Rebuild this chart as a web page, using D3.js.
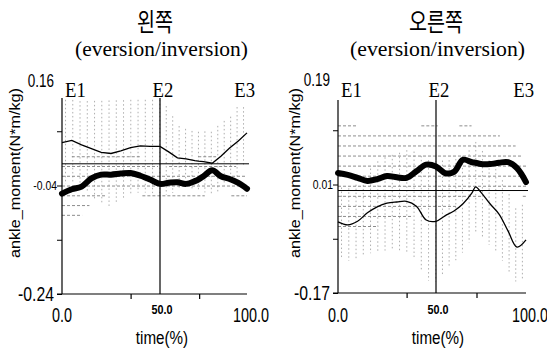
<!DOCTYPE html>
<html><head><meta charset="utf-8">
<script src="https://cdn.jsdelivr.net/npm/d3@7"></script>
<style>body{margin:0;background:#fff}svg{display:block;background:#fff}</style>
</head><body><svg id="c" width="547" height="349"></svg>
<script>
// ---------- data ----------
const time = [0,5,10,15,20,25,30,35,40,45,50,55,60,65,70,72,75,80,85,90,95,100];

const leftThick   = [-0.055,-0.047,-0.042,-0.027,-0.020,-0.020,-0.018,-0.017,-0.022,-0.029,-0.037,-0.035,-0.034,-0.037,-0.032,-0.029,-0.023,-0.012,-0.023,-0.028,-0.035,-0.046];
const leftThickSD = [0.060,0.060,0.055,0.045,0.040,0.038,0.036,0.036,0.036,0.035,0.030,0.030,0.035,0.040,0.042,0.042,0.040,0.030,0.030,0.030,0.028,0.025];
const leftThin    = [0.039,0.043,0.035,0.028,0.021,0.019,0.024,0.030,0.033,0.032,0.032,0.022,0.011,0.009,0.006,0.005,0.004,0.001,0.014,0.029,0.042,0.057];
const leftThinSD  = [0.079,0.075,0.080,0.088,0.095,0.098,0.093,0.088,0.085,0.086,0.086,0.080,0.060,0.055,0.053,0.054,0.056,0.058,0.062,0.055,0.066,0.045];

const rightThick   = [0.029,0.026,0.021,0.016,0.019,0.024,0.022,0.021,0.032,0.043,0.040,0.029,0.031,0.051,0.047,0.046,0.044,0.044,0.046,0.047,0.037,0.014];
const rightThickSD = [0.090,0.090,0.085,0.080,0.080,0.075,0.075,0.070,0.070,0.070,0.070,0.070,0.065,0.065,0.060,0.060,0.055,0.050,0.045,0.040,0.035,0.030];
const rightThin    = [-0.052,-0.057,-0.051,-0.037,-0.027,-0.021,-0.019,-0.018,-0.026,-0.049,-0.051,-0.042,-0.034,-0.022,-0.004,0.006,-0.003,-0.022,-0.039,-0.067,-0.094,-0.082];
const rightThinSD  = [0.058,0.060,0.062,0.068,0.075,0.078,0.080,0.085,0.090,0.100,0.100,0.092,0.085,0.080,0.075,0.075,0.072,0.070,0.068,0.065,0.060,0.065];

const titles    = ["왼쪽", "오른쪽"];
const subtitle  = "(eversion/inversion)";
const eventLabels = ["E1","E2","E3"];
const eventTimes  = [0,50,100];
const xTickValues = [0,50,100];
const xTickLabels = ["0.0","50.0","100.0"];
const xMinorTicks = [35,72.5];
const leftYDomain  = [-0.24,0.16];
const leftYTicks   = [0.16,-0.04,-0.24];
const leftYLabels  = ["0.16","-0.04","-0.24"];
const leftYMinor   = [0.06,-0.14];
const rightYDomain = [-0.17,0.19];
const rightYTicks  = [0.19,0.01,-0.17];
const rightYLabels = ["0.19","0.01","-0.17"];
const rightYMinor  = [0.10,-0.08];
const yTitle = "ankle_moment(N*m/kg)";
const xTitle = "time(%)";

// ---------- layout ----------
const svg = d3.select("#c");
const NUM = "'Liberation Sans',Arial,sans-serif";
const SERIF = "'Liberation Serif','DejaVu Serif',serif";

function narrowText(g, x, y, str, size, anchor, sx, opts={}){
  const t = g.append("text").attr("transform",`translate(${x},${y}) scale(${sx},1)`)
    .attr("text-anchor",anchor).attr("font-family",opts.family||NUM).attr("font-size",size)
    .attr("fill","#000").text(str);
  if(opts.weight) t.attr("font-weight",opts.weight);
  if(opts.baseline) t.attr("dominant-baseline",opts.baseline);
  return t;
}

const panels = [
  {title:titles[0], xr:[62,160,247], yr:[294,77], top:98, yDomain:leftYDomain, yTicks:leftYTicks, yLabels:leftYLabels, yMinor:leftYMinor,
   thick:leftThick, thickSD:leftThickSD, thin:leftThin, thinSD:leftThinSD, levelStart:0.013, levelStep:0.018, thinCurve:d3.curveLinear,
   titleX:155, subX:161.5, titleLen:36, subLen:173, yTitleX:16},
  {title:titles[1], xr:[338,436,526], yr:[293,76], top:100, yDomain:rightYDomain, yTicks:rightYTicks, yLabels:rightYLabels, yMinor:rightYMinor,
   thick:rightThick, thickSD:rightThickSD, thin:rightThin, thinSD:rightThinSD, levelStart:0.124, levelStep:0.0167, thinCurve:d3.curveCatmullRom.alpha(0.5),
   titleX:436, subX:437.5, titleLen:54, subLen:175, yTitleX:296}
];

function interp(arr, t){
  for(let i=0;i<time.length-1;i++){
    if(t>=time[i] && t<=time[i+1]){
      const f=(t-time[i])/(time[i+1]-time[i]);
      return arr[i]+(arr[i+1]-arr[i])*f;
    }
  }
  return arr[arr.length-1];
}

panels.forEach((p,pi)=>{
  const x = d3.scaleLinear().domain([0,50,100]).range(p.xr);
  const y = d3.scaleLinear().domain(p.yDomain).range(p.yr);
  const g = svg.append("g");
  const bottom = p.yr[0];

  const cid = "clip"+pi;
  svg.append("clipPath").attr("id",cid).append("rect")
    .attr("x",x(0)).attr("y",p.top).attr("width",x(100)-x(0)+1).attr("height",bottom-p.top);
  const hg = g.append("g").attr("clip-path",`url(#${cid})`);

  // vertical hatching: thin series SD
  d3.range(1.8,100,3.7).forEach(t=>{
    const c = interp(p.thin,t), s = interp(p.thinSD,t);
    hg.append("line").attr("x1",x(t)).attr("x2",x(t))
      .attr("y1",y(c+s)).attr("y2",y(c-s))
      .attr("stroke","#9a9a9a").attr("stroke-width",0.8).attr("stroke-dasharray","1.5,2.5");
  });
  // horizontal hatching: thick series SD
  for(let k=-12;k<=12;k++){
    const L = p.levelStart - k*p.levelStep;
    let start=null;
    const tsArr = d3.range(0,100.001,0.25);
    tsArr.forEach((t,i)=>{
      const c=interp(p.thick,t), s=interp(p.thickSD,t);
      const inside = Math.abs(L-c)<=s;
      if(inside && start===null) start=t;
      if((!inside || i===tsArr.length-1) && start!==null){
        const end = inside? t : tsArr[i-1];
        if(end-start>1){
          hg.append("line").attr("x1",x(start)).attr("x2",x(end))
            .attr("y1",y(L)).attr("y2",y(L))
            .attr("stroke","#808080").attr("stroke-width",0.9).attr("stroke-dasharray","3,2");
        }
        start=null;
      }
    });
  }

  // zero line
  g.append("line").attr("x1",x(0)).attr("x2",x(100)+2).attr("y1",y(0)).attr("y2",y(0))
    .attr("stroke","#000").attr("stroke-width",1);

  // axes
  const yAxis = d3.axisLeft(y).tickValues(p.yTicks.concat(p.yMinor).filter(v=>y(v)>=p.top)).tickSize(5).tickFormat("");
  const ya = g.append("g").attr("transform",`translate(${x(0)},0)`).call(yAxis);
  ya.select(".domain").remove();
  ya.selectAll("line").attr("stroke","#000");
  g.append("line").attr("x1",x(0)).attr("x2",x(0)).attr("y1",p.top).attr("y2",bottom).attr("stroke","#000").attr("stroke-width",1.2);

  const xAxis = d3.axisBottom(x).tickValues(xMinorTicks).tickSize(5).tickFormat("");
  const xa = g.append("g").attr("transform",`translate(0,${bottom})`).call(xAxis);
  xa.select(".domain").remove();
  xa.selectAll("line").attr("stroke","#000").attr("stroke-width",1.2);
  g.append("line").attr("x1",x(0)-5).attr("x2",x(100)).attr("y1",bottom).attr("y2",bottom).attr("stroke","#000").attr("stroke-width",1.2);

  // E2 event line
  g.append("line").attr("x1",x(50)).attr("x2",x(50)).attr("y1",p.top).attr("y2",bottom)
    .attr("stroke","#000").attr("stroke-width",1.2);

  // y tick labels
  p.yTicks.forEach((v,i)=>{
    const big = i!==1;
    narrowText(g, x(0)-(big?8:5), y(v)+(i===0?4:0), p.yLabels[i], big?(i===0?18:21):13, "end", big?0.75:0.8, {baseline:"central"});
  });
  // x tick labels
  xTickValues.forEach((v,i)=>{
    const mid = i===1;
    narrowText(g, x(v)+(i===2?4:(i===0?0:2)), mid?314:322, xTickLabels[i], mid?13.5:20, "middle", mid?0.8:0.72, {weight: mid?"bold":null});
  });
  // x title
  narrowText(g, x(50)+2, 344, xTitle, 19, "middle", 0.8);
  // y title
  g.append("text").attr("transform",`translate(${p.yTitleX+4},173) rotate(-90)`)
    .attr("text-anchor","middle").attr("font-family",NUM)
    .attr("font-size",14).attr("textLength",170).attr("lengthAdjust","spacingAndGlyphs")
    .text(yTitle);

  // event labels
  eventTimes.forEach((t,i)=>{
    const anchor = i===0?"start":(i===1?"middle":"end");
    const dx = i===0?3:(i===1?3:8);
    narrowText(g, x(t)+dx, 97, eventLabels[i], 22, anchor, 0.85, {family:SERIF});
  });

  // titles
  g.append("text").attr("x",p.titleX).attr("y",31).attr("text-anchor","middle")
    .attr("font-family","'Noto Sans CJK KR','Noto Sans CJK SC',sans-serif").attr("font-size",25)
    .attr("textLength",p.titleLen).attr("lengthAdjust","spacingAndGlyphs").text(p.title);
  g.append("text").attr("x",p.subX).attr("y",56).attr("text-anchor","middle")
    .attr("font-family",SERIF).attr("font-size",21)
    .attr("textLength",p.subLen).attr("lengthAdjust","spacingAndGlyphs").text(subtitle);

  // series lines
  const thinLine = d3.line().x((d,i)=>x(time[i])).y(d=>y(d)).curve(p.thinCurve);
  g.append("path").datum(p.thin).attr("d",thinLine).attr("fill","none")
    .attr("stroke","#000").attr("stroke-width",1.3);
  const thickLine = d3.line().x((d,i)=>x(time[i])).y(d=>y(d)).curve(d3.curveCatmullRom.alpha(0.5));
  g.append("path").datum(p.thick).attr("d",thickLine).attr("fill","none")
    .attr("stroke","#000").attr("stroke-width",6).attr("stroke-linejoin","round").attr("stroke-linecap","round");
});
</script>
</body></html>
